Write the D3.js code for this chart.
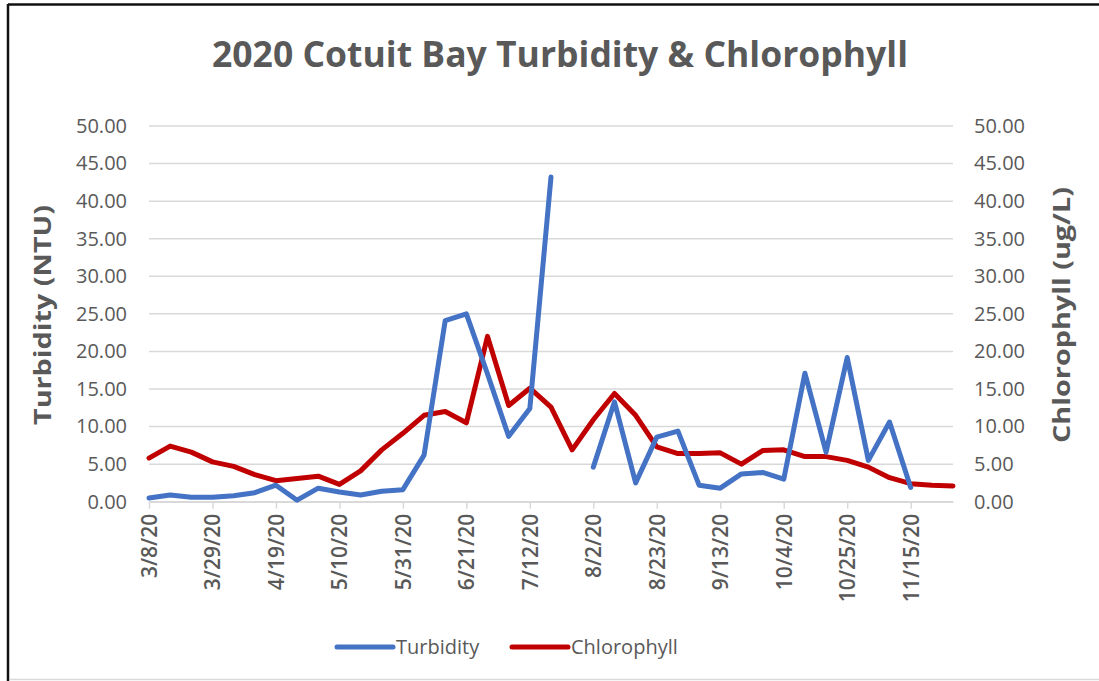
<!DOCTYPE html>
<html>
<head>
<meta charset="utf-8">
<script src="https://cdn.jsdelivr.net/npm/d3@7"></script>
<style>
  body { margin: 0; background: #fff; }
  text { font-family: "Open Sans", sans-serif; fill: #595959; }
</style>
</head>
<body>
<svg id="chart" width="1099" height="681"></svg>
<script>
// weekly sampling dates (category axis)
var dates = ["2020-03-08", "2020-03-15", "2020-03-22", "2020-03-29", "2020-04-05", "2020-04-12", "2020-04-19",
    "2020-04-26", "2020-05-03", "2020-05-10", "2020-05-17", "2020-05-24", "2020-05-31", "2020-06-07",
    "2020-06-14", "2020-06-21", "2020-06-28", "2020-07-05", "2020-07-12", "2020-07-19", "2020-07-26",
    "2020-08-02", "2020-08-09", "2020-08-16", "2020-08-23", "2020-08-30", "2020-09-06", "2020-09-13",
    "2020-09-20", "2020-09-27", "2020-10-04", "2020-10-11", "2020-10-18", "2020-10-25", "2020-11-01",
    "2020-11-08", "2020-11-15", "2020-11-22", "2020-11-29"]

// Turbidity (NTU), null = no sample
var turbidity = [0.5, 0.9, 0.6, 0.6, 0.8, 1.2, 2.2, 0.2, 1.8, 1.3, 0.9, 1.4, 1.6, 6.2,
    24.1, 25.0, 17.0, 8.7, 12.4, 43.2, null, 4.6, 13.3, 2.5, 8.6, 9.4, 2.2, 1.8,
    3.7, 3.9, 3.0, 17.1, 6.6, 19.2, 5.5, 10.6, 1.9, null, null]

// Chlorophyll (ug/L)
var chlorophyll = [5.8, 7.4, 6.6, 5.3, 4.7, 3.6, 2.8, 3.1, 3.4, 2.3, 4.1, 6.9, 9.1, 11.5,
    12.0, 10.5, 22.0, 12.8, 15.1, 12.6, 6.9, 10.9, 14.4, 11.5, 7.3, 6.4, 6.4, 6.5,
    5.0, 6.8, 6.9, 6.0, 6.0, 5.5, 4.6, 3.2, 2.4, 2.2, 2.1]

var yTicks = [0, 5, 10, 15, 20, 25, 30, 35, 40, 45, 50]

var titleText = "2020 Cotuit Bay Turbidity & Chlorophyll"
var seriesNames = ["Turbidity", "Chlorophyll"]
var seriesColors = ["#4472C4", "#C00000"]

var parse = d3.timeParse("%Y-%m-%d")
var fmt = d3.timeFormat("%-m/%-d/%y")
var days = dates.map(parse)

var svg = d3.select("#chart")

// frame
svg.append("rect").attr("x", 0).attr("y", 0).attr("width", 1099).attr("height", 681).attr("fill", "#fff")
svg.append("line").attr("x1", 8).attr("x2", 8).attr("y1", 4).attr("y2", 681)
    .attr("stroke", "#111").attr("stroke-width", 2.5)
svg.append("line").attr("x1", 8).attr("x2", 1099).attr("y1", 4.5).attr("y2", 4.5)
    .attr("stroke", "#111").attr("stroke-width", 2.5)
svg.append("line").attr("x1", 10).attr("x2", 1099).attr("y1", 679.5).attr("y2", 679.5)
    .attr("stroke", "#d9d9d9").attr("stroke-width", 1.5)

var x = d3.scaleTime().domain(d3.extent(days)).range([149, 953])
var yL = d3.scaleLinear().domain([0, 50]).range([501.7, 126])
var yR = d3.scaleLinear().domain([0, 50]).range([501.7, 126])

// gridlines
svg.append("g")
    .selectAll("line")
    .data(yTicks)
    .join("line")
    .attr("x1", 149).attr("x2", 953)
    .attr("y1", d => yL(d)).attr("y2", d => yL(d))
    .attr("stroke", "#d9d9d9").attr("stroke-width", 1.5)

// left axis
svg.append("g")
    .attr("transform", "translate(149,0)")
    .call(d3.axisLeft(yL).tickValues(yTicks).tickFormat(d3.format(".2f")).tickSize(0).tickPadding(22))
    .call(g => g.select(".domain").remove())
    .call(g => g.selectAll("text").style("font-size", "20px").attr("fill", "#595959"))

// right axis
svg.append("g")
    .attr("transform", "translate(953,0)")
    .call(d3.axisRight(yR).tickValues(yTicks).tickFormat(d3.format(".2f")).tickSize(0).tickPadding(21))
    .call(g => g.select(".domain").remove())
    .call(g => g.selectAll("text").style("font-size", "20px").attr("fill", "#595959"))

// bottom axis, every 3 weeks
var xTicks = days.filter((d, i) => i % 3 === 0)
svg.append("g")
    .attr("transform", "translate(0,501.7)")
    .call(d3.axisBottom(x).tickValues(xTicks).tickFormat(fmt).tickSize(7).tickSizeOuter(0))
    .call(g => g.select(".domain").attr("stroke", "#d9d9d9").attr("stroke-width", 1.5))
    .call(g => g.selectAll(".tick line").attr("stroke", "#d9d9d9").attr("stroke-width", 1.5))
    .call(g => g.selectAll("text")
        .style("font-size", "21px")
        .style("font-weight", "600")
        .attr("fill", "#595959")
        .attr("text-anchor", "end")
        .attr("dy", "0.35em")
        .attr("x", -12)
        .attr("y", 0)
        .attr("transform", "rotate(-90)"))

// lines
var line = d3.line()
    .defined(d => d[1] != null)
    .x(d => x(d[0]))

svg.append("path")
    .datum(days.map((d, i) => [d, chlorophyll[i]]))
    .attr("fill", "none")
    .attr("stroke", seriesColors[1])
    .attr("stroke-width", 5)
    .attr("stroke-linejoin", "round")
    .attr("stroke-linecap", "round")
    .attr("d", line.y(d => yR(d[1])))

svg.append("path")
    .datum(days.map((d, i) => [d, turbidity[i]]))
    .attr("fill", "none")
    .attr("stroke", seriesColors[0])
    .attr("stroke-width", 5)
    .attr("stroke-linejoin", "round")
    .attr("stroke-linecap", "round")
    .attr("d", line.y(d => yL(d[1])))

// titles
svg.append("text")
    .attr("x", 560).attr("y", 67)
    .attr("text-anchor", "middle")
    .attr("textLength", 696).attr("lengthAdjust", "spacingAndGlyphs")
    .style("font-size", "36px").style("font-weight", "700")
    .text(titleText)

svg.append("text")
    .attr("transform", "translate(43,315) rotate(-90)")
    .attr("text-anchor", "middle")
    .attr("dy", "0.35em")
    .attr("textLength", 220).attr("lengthAdjust", "spacingAndGlyphs")
    .style("font-size", "23px").style("font-weight", "700")
    .text("Turbidity (NTU)")

svg.append("text")
    .attr("transform", "translate(1062,315) rotate(-90)")
    .attr("text-anchor", "middle")
    .attr("dy", "0.35em")
    .attr("textLength", 256).attr("lengthAdjust", "spacingAndGlyphs")
    .style("font-size", "23px").style("font-weight", "700")
    .text("Chlorophyll (ug/L)")

// legend
var legendX = [337, 512]
var legend = svg.append("g")
    .selectAll("g")
    .data(seriesNames)
    .join("g")
    .attr("transform", (d, i) => "translate(" + legendX[i] + ",647)")
legend.append("line")
    .attr("x1", 0).attr("x2", 56)
    .attr("stroke", (d, i) => seriesColors[i])
    .attr("stroke-width", 5)
    .attr("stroke-linecap", "round")
legend.append("text")
    .attr("x", 59).attr("dy", "0.35em")
    .style("font-size", "20px")
    .text(d => d)
</script>
</body>
</html>
